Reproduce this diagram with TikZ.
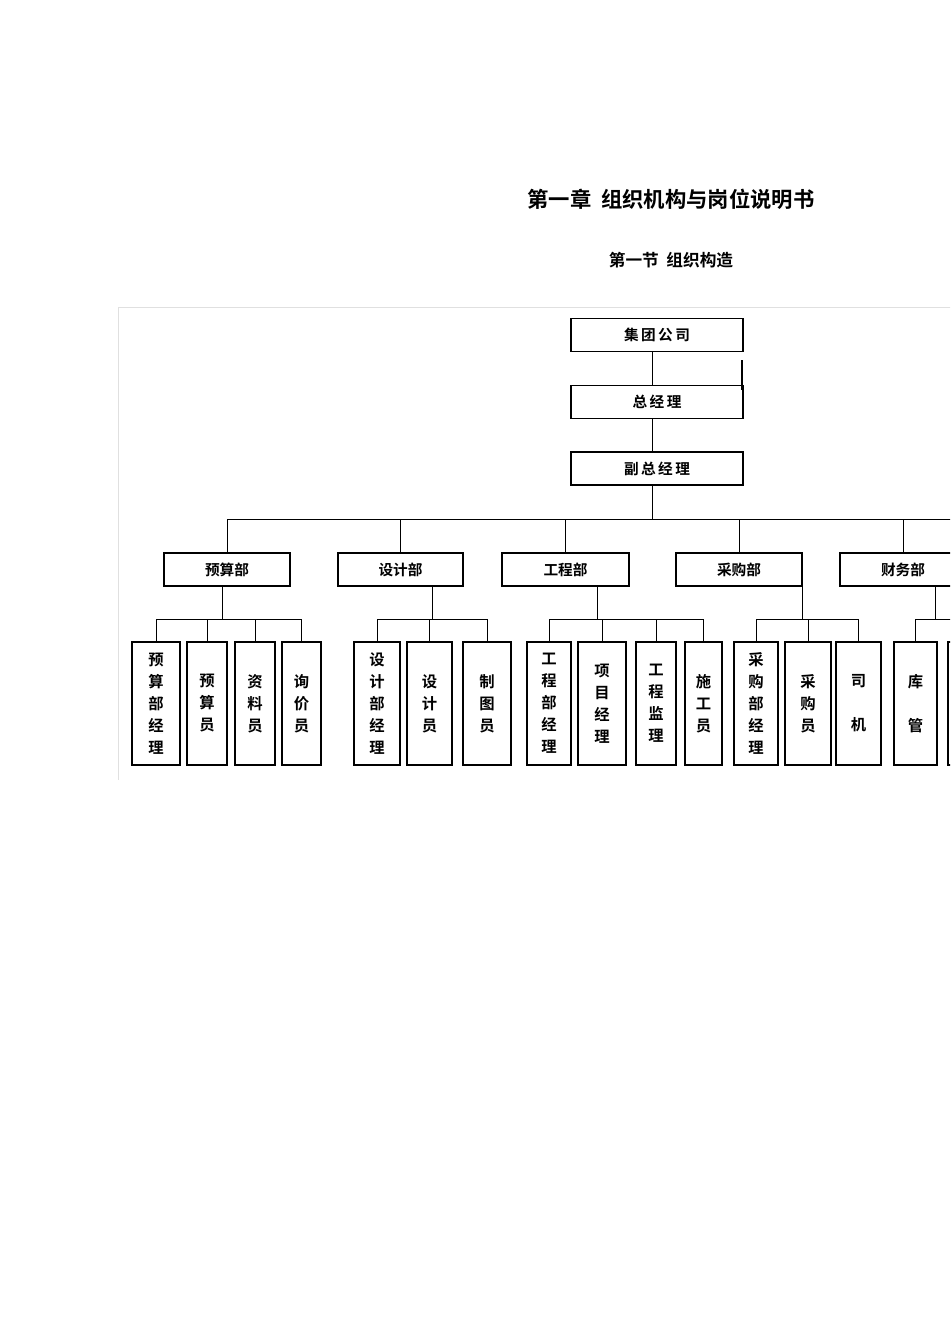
\documentclass[tikz,border=0pt]{standalone}
\usepackage{fontspec}
\setmainfont{Noto Sans CJK SC}[BoldFont={Noto Sans CJK SC Bold}]
\tikzset{
  box/.style={draw, line width=0.8pt, inner sep=0pt, font=\bfseries\fontsize{11}{13}\selectfont},
  dept/.style={box, minimum width=#1*0.75pt, minimum height=33*0.75pt},
  leaf/.style={box, minimum width=#1*0.75pt, minimum height=123*0.75pt, align=center,
    font=\bfseries\fontsize{11.5}{16.5}\selectfont},
  link/.style={line width=0.7pt}
}
\begin{document}
\begin{tikzpicture}[x=0.75pt,y=-0.75pt]
\useasboundingbox (0,0) rectangle (950,1344);
\clip (0,0) rectangle (950,1344);
% titles
\node[font=\bfseries\fontsize{16}{18}\selectfont] (title) at (671,199) {第一章\ \ 组织机构与岗位说明书};
\node[font=\bfseries\fontsize{12.5}{14}\selectfont] (sub) at (671,260) {第一节\ \ 组织构造};
% frame
\draw[black!12, line width=0.6pt] (118,780) -- (118,307) -- (960,307);

% top of chart
\node[dept=172] (corp) at (657,335) {集\,团\,公\,司};
\node[dept=172] (gm) at (657,402) {总\,经\,理};
\node[dept=172] (vgm) at (657,468.5) {副\,总\,经\,理};
\draw[link] (corp.south -| 652,0) -- (gm.north -| 652,0);
\draw[link] (gm.south -| 652,0) -- (vgm.north -| 652,0);
\draw[line width=1.6pt] (742,360) -- (742,390);

% departments
\coordinate (b0) at (0,519);
\node[dept=126] (d1) at (227,569.5) {预算部};
\node[dept=125] (d2) at (400.5,569.5) {设计部};
\node[dept=127] (d3) at (565.5,569.5) {工程部};
\node[dept=126] (d4) at (739,569.5) {采购部};
\node[dept=126] (d5) at (903,569.5) {财务部};
\draw[link] (vgm.south -| 652,0) -- (b0 -| 652,0);
\draw[link] (d1.north |- b0) -- (960,519);
\foreach \d in {d1,d2,d3,d4,d5}
  \draw[link] (\d.north) -- (\d.north |- b0);

% staff
\coordinate (b1) at (0,619);
\node[leaf=48] (l11) at (156,703.5) {预\\算\\部\\经\\理};
\node[leaf=40] (l12) at (207,703.5) {预\\算\\员};
\node[leaf=40] (l13) at (255,703.5) {资\\料\\员};
\node[leaf=39] (l14) at (301.5,703.5) {询\\价\\员};
\node[leaf=46] (l21) at (377,703.5) {设\\计\\部\\经\\理};
\node[leaf=45] (l22) at (429.5,703.5) {设\\计\\员};
\node[leaf=48] (l23) at (487,703.5) {制\\图\\员};
\node[leaf=44] (l31) at (549,703.5) {工\\程\\部\\经\\理};
\node[leaf=48] (l32) at (602,703.5) {项\\目\\经\\理};
\node[leaf=40] (l33) at (656,703.5) {工\\程\\监\\理};
\node[leaf=37] (l34) at (703.5,703.5) {施\\工\\员};
\node[leaf=44] (l41) at (756,703.5) {采\\购\\部\\经\\理};
\node[leaf=46] (l42) at (808,703.5) {采\\购\\员};
\node[leaf=45] (l43) at (858.5,703.5) {司\\\\机};
\node[leaf=43] (l51) at (915.5,703.5) {库\\\\管};
\node[leaf=43] (l52) at (969.5,703.5) {};

\draw[link] (d1.south -| 222,0) -- (b1 -| 222,0);
\draw[link] (d2.south -| 432,0) -- (b1 -| 432,0);
\draw[link] (d3.south -| 597,0) -- (b1 -| 597,0);
\draw[link] (d4.south east) -- (b1 -| d4.south east);
\draw[link] (d5.south -| 935,0) -- (b1 -| 935,0);
\draw[link] (l11.north |- b1) -- (l14.north |- b1);
\draw[link] (l21.north |- b1) -- (l23.north |- b1);
\draw[link] (l31.north |- b1) -- (l34.north |- b1);
\draw[link] (l41.north |- b1) -- (l43.north |- b1);
\draw[link] (l51.north |- b1) -- (960,619);
\foreach \l in {l11,l12,l13,l14,l21,l22,l23,l31,l32,l33,l34,l41,l42,l43,l51}
  \draw[link] (\l.north) -- (\l.north |- b1);
\end{tikzpicture}
\end{document}
